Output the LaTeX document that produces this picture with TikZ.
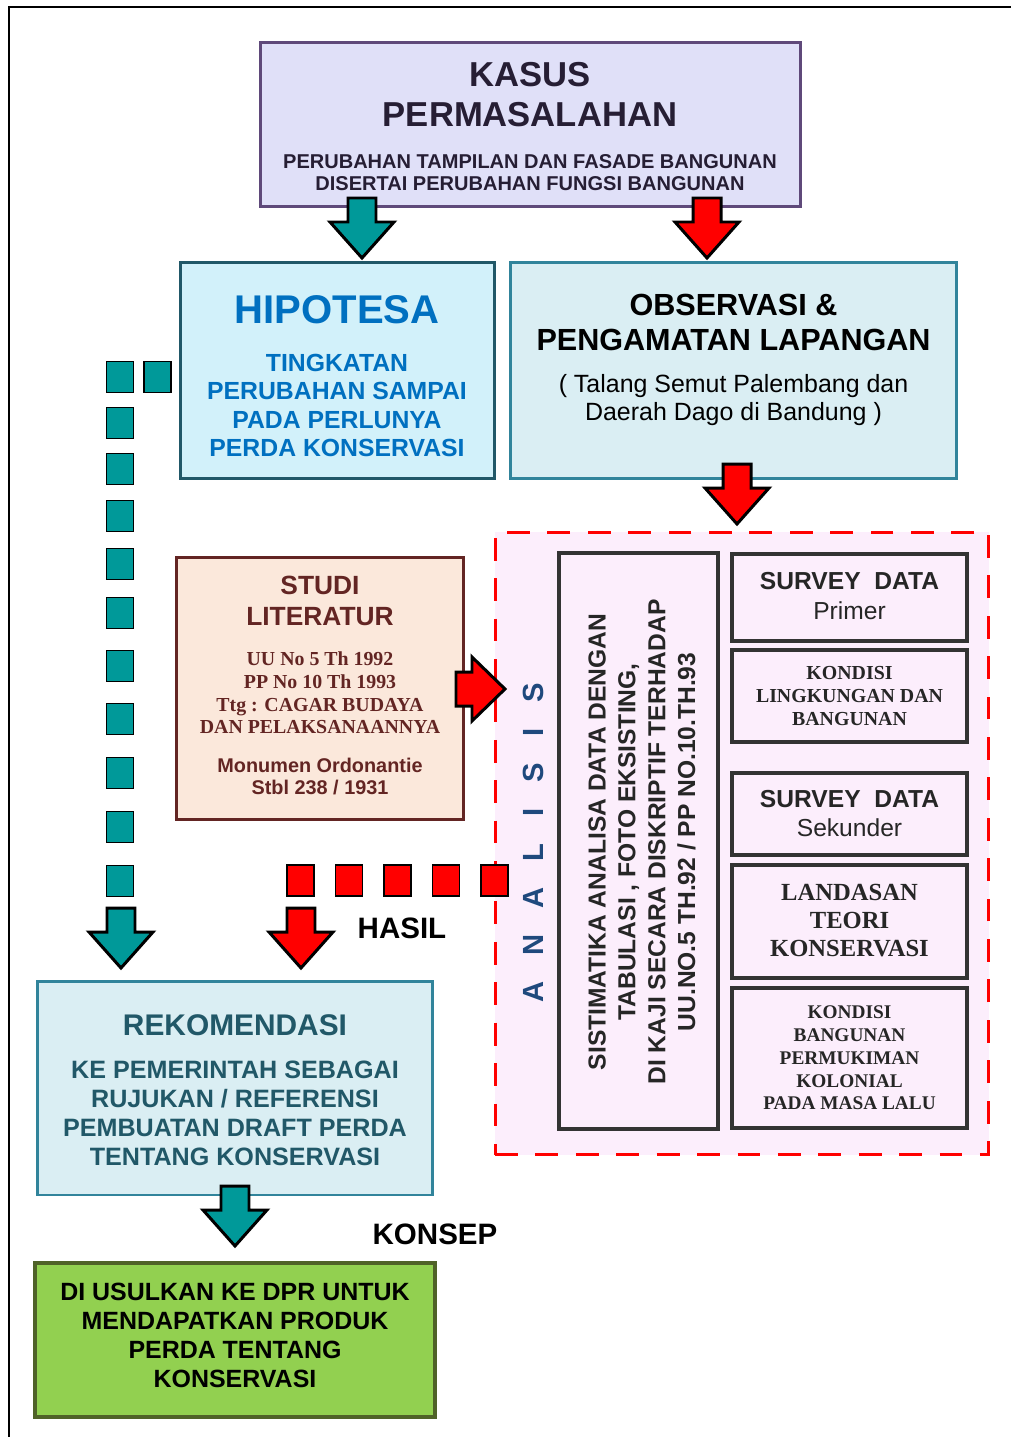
\documentclass[tikz,border=0pt]{standalone}
\usepackage{fontspec}
\setmainfont{Liberation Sans}
\newfontfamily\timesfont{Liberation Serif}

\definecolor{kasusfill}{RGB}{224,224,248}
\definecolor{kasusline}{RGB}{95,73,122}
\definecolor{kasustext}{RGB}{38,30,52}
\definecolor{hipofill}{RGB}{210,241,250}
\definecolor{hipoline}{RGB}{33,88,104}
\definecolor{hipotext}{RGB}{0,112,192}
\definecolor{obsfill}{RGB}{218,238,243}
\definecolor{obsline}{RGB}{49,132,155}
\definecolor{studifill}{RGB}{251,232,219}
\definecolor{studiline}{RGB}{99,37,35}
\definecolor{anafill}{RGB}{252,238,252}
\definecolor{anatext}{RGB}{31,73,125}
\definecolor{rekomtext}{RGB}{33,88,104}
\definecolor{usulfill}{RGB}{146,208,80}
\definecolor{usulline}{RGB}{79,98,40}
\definecolor{arrowteal}{RGB}{0,153,153}

\begin{document}
\begin{tikzpicture}[x=0.02cm, y=-0.02cm,
  box/.style={draw, line width=1.7pt, inner sep=0pt},
  kasusbox/.style={box, fill=kasusfill, draw=kasusline},
  hipobox/.style={box, fill=hipofill, draw=hipoline},
  obsbox/.style={box, fill=obsfill, draw=obsline},
  studibox/.style={box, fill=studifill, draw=studiline},
  usulbox/.style={box, fill=usulfill, draw=usulline, line width=2.8pt},
  databox/.style={box, fill=anafill, draw=black!80, line width=2.4pt},
  txt/.style={align=center, inner sep=0pt},
  tealsq/.style={fill=arrowteal, draw=black, line width=1.1pt},
  redsq/.style={fill=red, draw=black, line width=1.1pt},
  blockdown/.pic={\draw[pic actions, line width=1.7pt, line join=miter] (-14,0) -- (-14,24) -- (-32,24) -- (0,60) -- (32,24) -- (14,24) -- (14,0) -- cycle;},
  blockright/.pic={\draw[pic actions, line width=1.7pt, line join=miter] (0,-17) -- (16,-17) -- (16,-32) -- (49,0) -- (16,32) -- (16,17) -- (0,17) -- cycle;}
]
\useasboundingbox (0,0) rectangle (1011,1437);

% Frame
\draw[line width=1.7pt] (9,1437) -- (9,7) -- (1011,7);

% Kasus permasalahan
\node[kasusbox, minimum width=10.82cm, minimum height=3.3cm] (kasus) at (530.5,124.5) {};
\node[txt, text=kasustext, font=\bfseries\fontsize{19.7}{22.7}\selectfont] (kasustitle) at (530,95) {KASUS\\PERMASALAHAN};
\node[txt, text=kasustext, font=\bfseries\fontsize{11.4}{12.8}\selectfont] (kasussub) at (530,172.5) {PERUBAHAN TAMPILAN DAN FASADE BANGUNAN\\DISERTAI PERUBAHAN FUNGSI BANGUNAN};

% Hipotesa
\node[hipobox, minimum width=6.3cm, minimum height=4.34cm] (hipo) at (337.5,370.5) {};
\node[txt, text=hipotext, font=\bfseries\fontsize{22.8}{26}\selectfont] (hipotitle) at (337,310) {HIPOTESA};
\node[txt, text=hipotext, font=\bfseries\fontsize{14.1}{16}\selectfont] (hipobody) at (337,405.5) {TINGKATAN\\PERUBAHAN SAMPAI\\PADA PERLUNYA\\PERDA KONSERVASI};

% Observasi
\node[obsbox, minimum width=8.94cm, minimum height=4.34cm] (obs) at (733.5,370.5) {};
\node[txt, font=\bfseries\fontsize{17.4}{19.8}\selectfont] (obstitle) at (733.5,322.5) {OBSERVASI \&\\PENGAMATAN LAPANGAN};
\node[txt, font=\fontsize{14.2}{15.9}\selectfont] (obssub) at (733.5,400.5) {( Talang Semut Palembang dan\\Daerah Dago di Bandung )};

% Studi literatur
\node[studibox, minimum width=5.76cm, minimum height=5.26cm] (studi) at (320,688.5) {};
\node[txt, text=studiline, font=\bfseries\fontsize{15}{18.1}\selectfont] (studititle) at (320,601) {STUDI\\LITERATUR};
\node[txt, text=studiline, font=\timesfont\bfseries\fontsize{11.3}{12.9}\selectfont] (studiuu) at (320,693) {UU No 5 Th 1992\\PP No 10 Th 1993\\Ttg : CAGAR BUDAYA\\DAN PELAKSANAANNYA};
\node[txt, text=studiline, font=\bfseries\fontsize{11.3}{13}\selectfont] (studimon) at (320,776.5) {Monumen Ordonantie\\Stbl 238 / 1931};

% Analisis
\node[box, draw=red, fill=anafill, dash pattern=on 13pt off 10pt, minimum width=9.88cm, minimum height=12.46cm] (analisis) at (742,843.5) {};
\node[txt, rotate=90, text=anatext, font=\bfseries\fontsize{16.6}{20}\selectfont] (analisistext) at (533,843) {\spaceskip=0.9em\relax A N A L I S I S};

\node[databox, minimum width=3.18cm, minimum height=11.52cm] (sistimatika) at (638.5,841) {};
\node[txt, rotate=90, text=black!85, font=\bfseries\fontsize{14}{17}\selectfont] (sisttext) at (642,842) {SISTIMATIKA ANALISA DATA DENGAN\\TABULASI , FOTO EKSISTING,\\DI KAJI SECARA DISKRIPTIF TERHADAP\\UU.NO.5 TH.92 / PP NO.10.TH.93};

\node[databox, minimum width=4.7cm, minimum height=1.74cm] (primer) at (849.5,597.5) {};
\node[txt, text=black!85, font=\fontsize{14}{17}\selectfont] (primertext) at (849.5,596) {\textbf{SURVEY\ \ DATA}\\Primer};
\node[databox, minimum width=4.7cm, minimum height=1.84cm] (lingkungan) at (849.5,696) {};
\node[txt, text=black!85, font=\timesfont\bfseries\fontsize{11.3}{13}\selectfont] (lingkungantext) at (849.5,696) {KONDISI\\LINGKUNGAN DAN\\BANGUNAN};
\node[databox, minimum width=4.7cm, minimum height=1.64cm] (sekunder) at (849.5,814) {};
\node[txt, text=black!85, font=\fontsize{14}{17}\selectfont] (sekundertext) at (849.5,813.5) {\textbf{SURVEY\ \ DATA}\\Sekunder};
\node[databox, minimum width=4.7cm, minimum height=2.26cm] (landasan) at (849.5,921.5) {};
\node[txt, text=black!85, font=\timesfont\bfseries\fontsize{14}{16.2}\selectfont] (landasantext) at (849.5,920.5) {LANDASAN\\TEORI\\KONSERVASI};
\node[databox, minimum width=4.7cm, minimum height=2.8cm] (kolonial) at (849.5,1058) {};
\node[txt, text=black!85, font=\timesfont\bfseries\fontsize{11}{13}\selectfont] (kolonialtext) at (849.5,1058) {KONDISI\\BANGUNAN\\PERMUKIMAN\\KOLONIAL\\PADA MASA LALU};

% Rekomendasi
\node[obsbox, minimum width=7.92cm, minimum height=4.28cm] (rekom) at (235,1088) {};
\node[txt, text=rekomtext, font=\bfseries\fontsize{17}{20}\selectfont] (rekomtitle) at (235,1025) {REKOMENDASI};
\node[txt, text=rekomtext, font=\bfseries\fontsize{14.3}{16.4}\selectfont] (rekombody) at (235,1113.5) {KE PEMERINTAH SEBAGAI\\RUJUKAN / REFERENSI\\PEMBUATAN DRAFT PERDA\\TENTANG KONSERVASI};

% Usulan
\node[usulbox, minimum width=8cm, minimum height=3.08cm] (usul) at (235,1340) {};
\node[txt, font=\bfseries\fontsize{14.2}{16.4}\selectfont] (usultext) at (235,1335.5) {DI USULKAN KE DPR UNTUK\\MENDAPATKAN PRODUK\\PERDA TENTANG\\KONSERVASI};

% Labels
\node[txt, font=\bfseries\fontsize{16.8}{20}\selectfont] (hasil) at (402,928) {HASIL};
\node[txt, font=\bfseries\fontsize{16.8}{20}\selectfont] (konsep) at (435,1234) {KONSEP};

% Dotted connectors
\foreach \y in {377,423,469,516,564,613,666,719,773,827,881}
  \draw[tealsq] (106.5,\y-15.5) rectangle ++(27,31);
\draw[tealsq] (144,361.5) rectangle ++(27,31);
\foreach \i in {0,...,4}
  \draw[redsq] ({287+48.5*\i},865) rectangle ++(27,31);

% Block arrows
\pic[fill=arrowteal] at (362,198) {blockdown};
\pic[fill=red] at (707,198) {blockdown};
\pic[fill=red] at (737,464) {blockdown};
\pic[fill=red] at (456,689) {blockright};
\pic[fill=arrowteal] at (121,908) {blockdown};
\pic[fill=red] at (301,908) {blockdown};
\pic[fill=arrowteal] at (235,1186) {blockdown};
\end{tikzpicture}
\end{document}
